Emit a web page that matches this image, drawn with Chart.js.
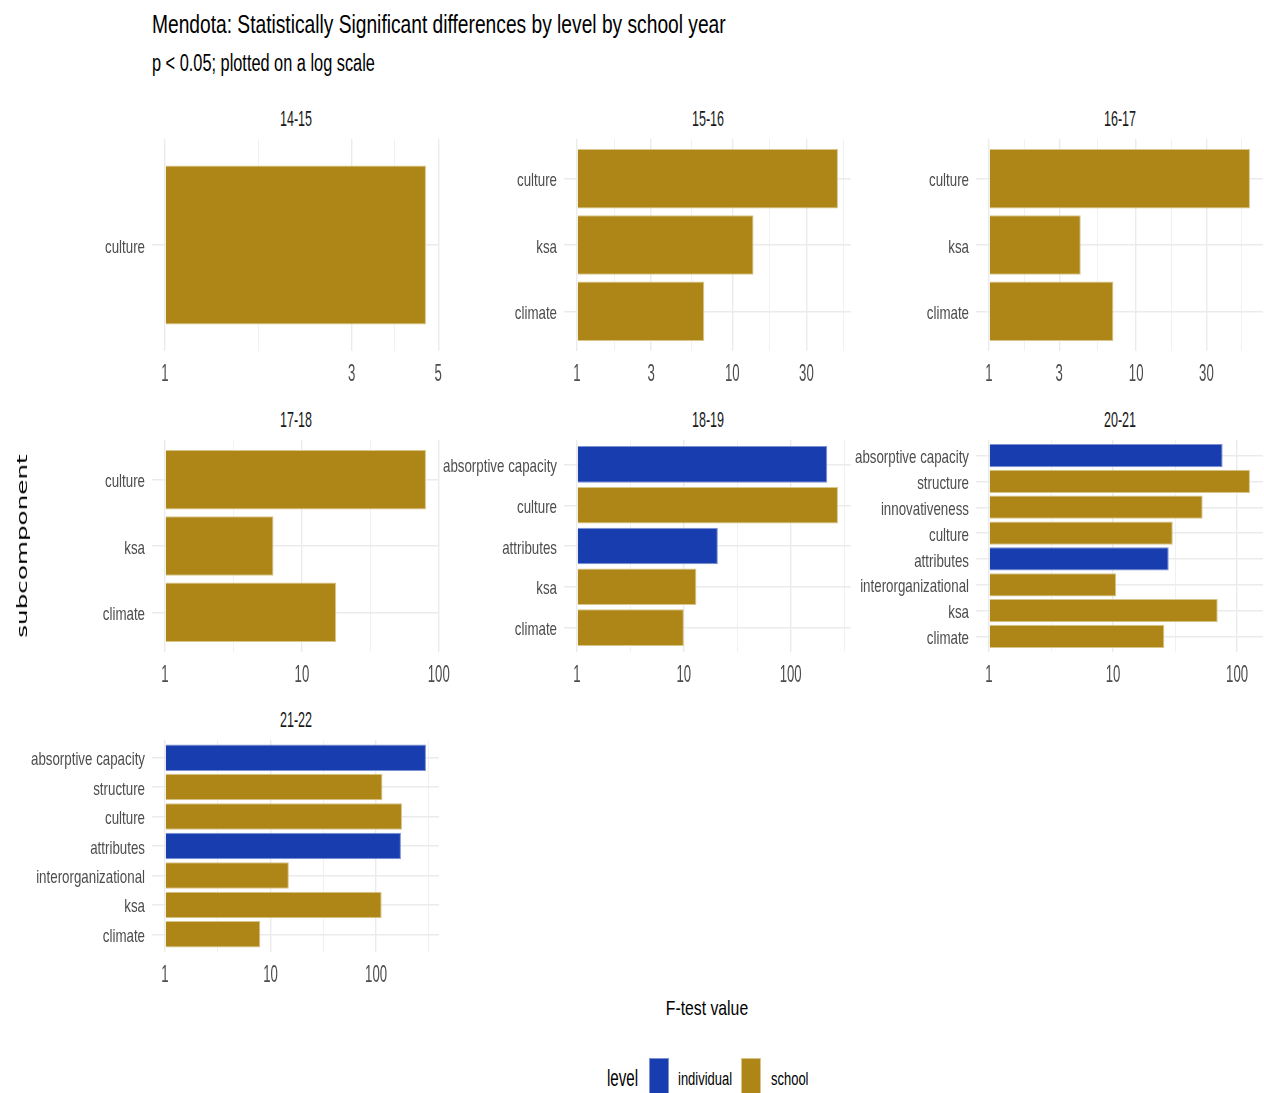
<!DOCTYPE html>
<html>
<head>
<meta charset="utf-8">
<title>Mendota: Statistically Significant differences by level by school year</title>
<script src="https://cdn.jsdelivr.net/npm/chart.js@4.4.0/dist/chart.umd.min.js"></script>
<style>
  html, body { margin: 0; padding: 0; background: #fff; }
  #fig { position: relative; width: 1264px; height: 1093px; overflow: hidden; }
  .txt { position: absolute; white-space: nowrap; line-height: 1; font-family: 'Liberation Sans', Arial, sans-serif; }
  .panel { position: absolute; }
  .swatch { position: absolute; box-sizing: border-box; }
</style>
</head>
<body>
<div id="fig"></div>
<script>
// facet order (school years)
const years = ['14-15', '15-16', '16-17', '17-18', '18-19', '20-21', '21-22'];

// each facet: subcomponents listed top to bottom, F-test values, level
const subcomp1415 = ['culture'];
const fval1415 = [4.65];
const level1415 = ['school'];

const subcomp1516 = ['culture', 'ksa', 'climate'];
const fval1516 = [47.9, 13.7, 6.6];
const level1516 = ['school', 'school', 'school'];

const subcomp1617 = ['culture', 'ksa', 'climate'];
const fval1617 = [59.3, 4.2, 7.0];
const level1617 = ['school', 'school', 'school'];

const subcomp1718 = ['culture', 'ksa', 'climate'];
const fval1718 = [80.6, 6.2, 17.8];
const level1718 = ['school', 'school', 'school'];

const subcomp1819 = ['absorptive capacity', 'culture', 'attributes', 'ksa', 'climate'];
const fval1819 = [220, 277, 20.8, 13.1, 10.0];
const level1819 = ['individual', 'school', 'individual', 'school', 'school'];

const subcomp2021 = ['absorptive capacity', 'structure', 'innovativeness', 'culture', 'attributes', 'interorganizational', 'ksa', 'climate'];
const fval2021 = [76.5, 127, 52.8, 30.3, 28.1, 10.6, 69.8, 25.9];
const level2021 = ['individual', 'school', 'school', 'school', 'individual', 'school', 'school', 'school'];

const subcomp2122 = ['absorptive capacity', 'structure', 'culture', 'attributes', 'interorganizational', 'ksa', 'climate'];
const fval2122 = [297, 115, 176, 172, 14.9, 113, 8.0];
const level2122 = ['individual', 'school', 'school', 'individual', 'school', 'school', 'school'];

// x tick labels per facet (log scale breaks)
const ticks1415 = [1, 3, 5];
const ticks1516 = [1, 3, 10, 30];
const ticks1617 = [1, 3, 10, 30];
const ticks1718 = [1, 10, 100];
const ticks1819 = [1, 10, 100];
const ticks2021 = [1, 10, 100];
const ticks2122 = [1, 10, 100];

const levels = ['individual', 'school'];
const levelColors = { individual: '#173dae', school: '#ae8617' };
const levelEdges = { individual: '#7d92d2', school: '#d8c589' };

const panels = [
    { cats: subcomp1415, vals: fval1415, lv: level1415, breaks: ticks1415 },
    { cats: subcomp1516, vals: fval1516, lv: level1516, breaks: ticks1516 },
    { cats: subcomp1617, vals: fval1617, lv: level1617, breaks: ticks1617 },
    { cats: subcomp1718, vals: fval1718, lv: level1718, breaks: ticks1718 },
    { cats: subcomp1819, vals: fval1819, lv: level1819, breaks: ticks1819 },
    { cats: subcomp2021, vals: fval2021, lv: level2021, breaks: ticks2021 },
    { cats: subcomp2122, vals: fval2122, lv: level2122, breaks: ticks2122 }
];

const FONT = "'Liberation Sans', Arial, sans-serif";
Chart.defaults.font.family = FONT;
Chart.defaults.color = '#4d4d4d';

const fig = document.getElementById('fig');

// panel geometry
const colLeft = [152, 564, 976];
const rowTop = [139, 440, 740];
const PW = 287, PH = 212;
const LABEL_W = 150, PAD_T = 14, PAD_R = 24, TICK_H = 40;

function addText(text, x, baseline, size, opts = {}) {
    const el = document.createElement('div');
    el.className = 'txt';
    el.textContent = text;
    el.style.fontSize = size + 'px';
    el.style.color = opts.color || '#000';
    el.style.left = x + 'px';
    el.style.top = (baseline - 0.8465 * size) + 'px';
    const sx = opts.sx || 0.75;
    if (opts.align === 'center') {
        el.style.transformOrigin = 'center';
        el.style.transform = `translateX(-50%) scaleX(${sx})`;
    } else {
        el.style.transformOrigin = 'left';
        el.style.transform = `scaleX(${sx})`;
    }
    fig.appendChild(el);
    return el;
}

// ggplot-style minor breaks: midpoints of the majors in log space
function minorBreaks(majors, lo, hi) {
    let b = majors.map(Math.log10);
    const bd = b[1] - b[0];
    if (lo < b[0]) b = [b[0] - bd, ...b];
    if (hi > b[b.length - 1]) b = [...b, b[b.length - 1] + bd];
    const out = [];
    for (let i = 0; i < b.length - 1; i++) {
        const m = (b[i] + b[i + 1]) / 2;
        if (m >= lo && m <= hi) out.push(Math.pow(10, m));
    }
    return out;
}

// axis labels drawn at the scales' own tick positions, but narrowed like the source font
function condensedLabels(cats) {
    return {
        id: 'condensedLabels',
        afterDraw(chart) {
            const { ctx, scales: { x, y } } = chart;
            ctx.save();
            ctx.fillStyle = '#4d4d4d';
            ctx.font = `18.5px ${FONT}`;
            ctx.textAlign = 'right';
            ctx.textBaseline = 'middle';
            y.ticks.forEach(t => {
                ctx.save();
                ctx.translate(x.left - 7, y.getPixelForValue(t.value) + 2.5);
                ctx.scale(0.72, 1);
                ctx.fillText(cats[t.value], 0, 0);
                ctx.restore();
            });
            ctx.font = `24px ${FONT}`;
            ctx.textAlign = 'center';
            ctx.textBaseline = 'alphabetic';
            x.ticks.forEach(t => {
                if (t.minor) return;
                ctx.save();
                ctx.translate(x.getPixelForValue(t.value), y.bottom + 30);
                ctx.scale(0.55, 1);
                ctx.fillText(String(t.value), 0, 0);
                ctx.restore();
            });
            ctx.restore();
        }
    };
}

panels.forEach((p, i) => {
    const left = colLeft[i % 3], top = rowTop[Math.floor(i / 3)];

    // strip title
    addText(years[i], left + PW / 2, top - 12, 22, { align: 'center', sx: 0.57, color: '#1a1a1a' });

    const wrap = document.createElement('div');
    wrap.className = 'panel';
    wrap.style.left = (left - LABEL_W) + 'px';
    wrap.style.top = (top - PAD_T) + 'px';
    const cv = document.createElement('canvas');
    const W = LABEL_W + PW + PAD_R, H = PAD_T + PH + TICK_H;
    cv.width = W; cv.height = H;
    cv.style.width = W + 'px'; cv.style.height = H + 'px';
    wrap.appendChild(cv);
    fig.appendChild(wrap);

    // free x scale: 5% expansion in log space, bars start at 1
    const L = Math.log10(Math.max(...p.vals));
    const lo = -0.05 * L, hi = 1.05 * L;
    const xMin = Math.pow(10, lo), xMax = Math.pow(10, hi);
    const majors = p.breaks.filter(v => v >= xMin * 0.999 && v <= xMax * 1.001);
    const minors = minorBreaks(p.breaks, lo, hi);
    const xTicks = majors.map(v => ({ value: v, minor: false }))
        .concat(minors.map(v => ({ value: v, minor: true })))
        .sort((a, b) => a.value - b.value);

    const n = p.cats.length;

    new Chart(cv, {
        type: 'bar',
        data: {
            datasets: [{
                data: p.vals.map((v, k) => ({ x: v, y: k })),
                backgroundColor: p.lv.map(l => levelColors[l]),
                borderColor: p.lv.map(l => levelEdges[l]),
                borderWidth: 1,
                base: 1,
                categoryPercentage: 1,
                barPercentage: n === 1 ? 0.75 : 0.9
            }]
        },
        options: {
            indexAxis: 'y',
            responsive: false,
            maintainAspectRatio: false,
            animation: false,
            layout: { padding: { top: PAD_T, right: PAD_R, left: 0, bottom: 0 } },
            plugins: { legend: { display: false }, tooltip: { enabled: false } },
            scales: {
                x: {
                    type: 'logarithmic',
                    min: xMin,
                    max: xMax,
                    bounds: 'data',
                    afterBuildTicks: s => { s.ticks = xTicks.map(t => ({ ...t })); },
                    afterFit: s => { s.height = TICK_H; },
                    border: { display: false },
                    grid: {
                        drawTicks: false,
                        color: c => (c.tick && c.tick.minor) ? '#f1f1f1' : '#ebebeb',
                        lineWidth: c => (c.tick && c.tick.minor) ? 1 : 1.4
                    },
                    ticks: { display: false, autoSkip: false }
                },
                y: {
                    type: 'linear',
                    min: -0.6,
                    max: n - 0.4,
                    reverse: true,
                    offset: false,
                    bounds: 'data',
                    afterBuildTicks: s => { s.ticks = p.cats.map((c, k) => ({ value: k })); },
                    afterFit: s => { s.width = LABEL_W; },
                    border: { display: false },
                    grid: { offset: false, drawTicks: false, color: '#ebebeb', lineWidth: 1.4 },
                    ticks: { display: false, autoSkip: false }
                }
            }
        },
        plugins: [condensedLabels(p.cats)]
    });
});

// titles
addText('Mendota: Statistically Significant differences by level by school year', 152, 33.3, 25.6, { sx: 0.75 });
addText('p < 0.05; plotted on a log scale', 152, 71.7, 23, { sx: 0.71 });
addText('F-test value', 707, 1015, 21, { align: 'center', sx: 0.75 });

// y axis title, stretched along its baseline like the source
const yt = document.createElement('div');
yt.className = 'txt';
yt.textContent = 'subcomponent';
yt.style.fontFamily = "'DejaVu Sans', sans-serif";
yt.style.fontSize = '14px';
yt.style.left = '22px';
yt.style.top = '546px';
yt.style.transform = 'translate(-50%, -50%) rotate(-90deg) scaleX(1.76)';
fig.appendChild(yt);

// legend
addText('level', 607, 1086, 24, { sx: 0.63 });
const legendX = { individual: [649, 678], school: [741, 771] };
levels.forEach(l => {
    const sw = document.createElement('div');
    sw.className = 'swatch';
    sw.style.left = legendX[l][0] + 'px';
    sw.style.top = '1058px';
    sw.style.width = '20px';
    sw.style.height = '36px';
    sw.style.background = levelColors[l];
    sw.style.border = '1px solid ' + levelEdges[l];
    fig.appendChild(sw);
    addText(l, legendX[l][1], 1085, 18, { sx: 0.72 });
});
</script>
</body>
</html>
